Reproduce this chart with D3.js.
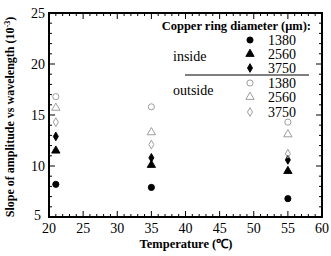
<!DOCTYPE html>
<html>
<head>
<script src="https://d3js.org/d3.v7.min.js"></script>
<style>
  body { margin: 0; background: #fff; }
  text { font-family: "Liberation Serif", "Times New Roman", serif; }
</style>
</head>
<body>
<div id="chart"></div>
<script>
// temperatures (x) and slope values (10^-3)
var temps = [21, 35, 55];
var diameters = ["1380", "2560", "3750"];
var inside1380 = [8.2, 7.9, 6.8];
var inside2560 = [11.5, 10.1, 9.5];
var inside3750 = [12.9, 10.8, 10.6];
var outside1380 = [16.8, 15.8, 14.3];
var outside2560 = [15.7, 13.3, 13.1];
var outside3750 = [14.3, 12.1, 11.2];
var xTicks = [20, 25, 30, 35, 40, 45, 50, 55, 60];
var yTicks = [5, 10, 15, 20, 25];

var width = 331, height = 256;
var margin = {left: 49, right: 9, top: 13, bottom: 39};

var svg = d3.select("#chart").append("svg")
    .attr("width", width).attr("height", height);

var x = d3.scaleLinear().domain([20, 60]).range([margin.left, width - margin.right]);
var y = d3.scaleLinear().domain([5, 25]).range([height - margin.bottom, margin.top]);

var series = [
  {vals: inside1380, shape: d3.symbolCircle, size: 30, filled: true},
  {vals: inside2560, shape: d3.symbolTriangle, size: 30, filled: true},
  {vals: inside3750, shape: d3.symbolDiamond, size: 22, filled: true},
  {vals: outside1380, shape: d3.symbolCircle, size: 30, filled: false},
  {vals: outside2560, shape: d3.symbolTriangle, size: 30, filled: false},
  {vals: outside3750, shape: d3.symbolDiamond, size: 22, filled: false}
];
var grey = "#939393";

// ticks, inward on all sides
var minorX = d3.range(20, 61, 1), minorY = d3.range(5, 26, 1);
var tk = svg.append("g").attr("stroke", "#000").attr("stroke-width", 1);
minorX.forEach(function(v) {
  var len = v % 5 === 0 ? 6 : 3;
  tk.append("line").attr("x1", x(v)).attr("x2", x(v)).attr("y1", y(5)).attr("y2", y(5) - len);
  tk.append("line").attr("x1", x(v)).attr("x2", x(v)).attr("y1", y(25)).attr("y2", y(25) + len);
});
minorY.forEach(function(v) {
  var len = v % 5 === 0 ? 6 : 3;
  tk.append("line").attr("y1", y(v)).attr("y2", y(v)).attr("x1", x(20)).attr("x2", x(20) + len);
  tk.append("line").attr("y1", y(v)).attr("y2", y(v)).attr("x1", x(60)).attr("x2", x(60) - len);
});

svg.append("rect")
  .attr("x", x(20)).attr("y", y(25))
  .attr("width", x(60) - x(20)).attr("height", y(5) - y(25))
  .attr("fill", "none").attr("stroke", "#000").attr("stroke-width", 2);

// tick labels
svg.selectAll(".xt").data(xTicks).enter().append("text")
  .attr("x", function(d) { return x(d); }).attr("y", y(5) + 16)
  .attr("text-anchor", "middle").attr("font-size", 14).text(function(d) { return d; });
svg.selectAll(".yt").data(yTicks).enter().append("text")
  .attr("x", function(d) { return x(20) - (d === 5 ? 8 : 4); })
  .attr("y", function(d) { return y(d) + (d === 5 ? 3 : 5); })
  .attr("text-anchor", "end").attr("font-size", 14).text(function(d) { return d; });

// axis titles
svg.append("text").attr("x", 186).attr("y", 248)
  .attr("text-anchor", "middle").attr("font-size", 12.5).attr("font-weight", "bold")
  .text("Temperature (\u2103)");
var yl = svg.append("text")
  .attr("transform", "translate(14," + 117 + ") rotate(-90)")
  .attr("text-anchor", "middle").attr("font-size", 12).attr("font-weight", "bold");
yl.append("tspan").text("Slope of amplitude vs wavelength (10");
yl.append("tspan").attr("dy", -4).attr("font-size", 8).text("-3");
yl.append("tspan").attr("dy", 4).text(")");

// points
series.forEach(function(s) {
  svg.selectAll(null).data(s.vals).enter().append("path")
    .attr("d", d3.symbol().type(s.shape).size(s.size))
    .attr("transform", function(d, i) { return "translate(" + x(temps[i]) + "," + y(d) + ")"; })
    .attr("fill", s.filled ? "#000" : "none")
    .attr("stroke", s.filled ? "#000" : grey)
    .attr("stroke-width", 0.9);
});

// legend
var lg = svg.append("g");
lg.append("text").attr("x", 311).attr("y", 30).attr("text-anchor", "end")
  .attr("font-size", 12.5).attr("font-weight", "bold").text("Copper ring diameter (\u03bcm):");
var rowsY = [40, 54, 68, 83, 97, 112];
series.forEach(function(s, i) {
  lg.append("path")
    .attr("d", d3.symbol().type(s.shape).size(s.size))
    .attr("transform", "translate(250," + rowsY[i] + ")")
    .attr("fill", s.filled ? "#000" : "none")
    .attr("stroke", s.filled ? "#000" : grey).attr("stroke-width", 0.9);
  lg.append("text").attr("x", 268).attr("y", rowsY[i] + 5)
    .attr("font-size", 14).text(diameters[i % 3]);
});
lg.append("line").attr("x1", 185).attr("x2", 309).attr("y1", 75).attr("y2", 75)
  .attr("stroke", "#000").attr("stroke-width", 1.2);
lg.append("text").attr("x", 173).attr("y", 61).attr("font-size", 14).text("inside");
lg.append("text").attr("x", 173).attr("y", 95).attr("font-size", 14).text("outside");
</script>
</body>
</html>
